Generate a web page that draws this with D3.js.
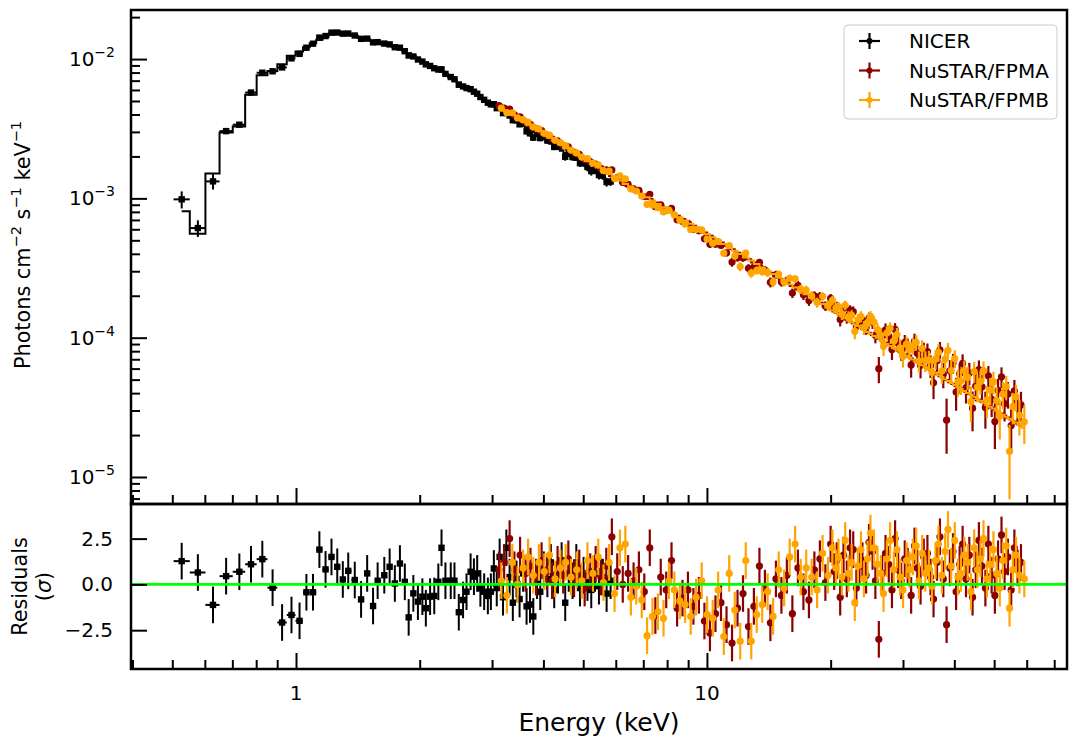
<!DOCTYPE html>
<html>
<head>
<meta charset="utf-8">
<script src="https://cdn.jsdelivr.net/npm/d3@7"></script>
<style>
  body { margin: 0; background: #fff; overflow: hidden; }
  svg { font-family: "DejaVu Sans", sans-serif; }
  text { white-space: pre; }
</style>
</head>
<body>
<div class="canvas"></div>
<script>
// Fluxes are given in units of 1e-4 photons cm^-2 s^-1 keV^-1,
// errors as percent of the model, residuals in sigma.
const FLUX_UNIT = 1e-4;

const nicerEnergy = [
  0.527, 0.577, 0.628, 0.676, 0.728, 0.777, 0.828, 0.877, 0.925, 0.975,
  1.02, 1.06, 1.10, 1.14, 1.18, 1.22, 1.26, 1.30, 1.34, 1.39,
  1.44, 1.49, 1.54, 1.58, 1.64, 1.69, 1.74, 1.79, 1.84, 1.88,
  1.93, 1.98, 2.03, 2.07, 2.12, 2.17, 2.22, 2.26, 2.31, 2.38,
  2.43, 2.49, 2.55, 2.60, 2.66, 2.71, 2.76, 2.81, 2.87, 2.93, 2.98,
  3.03, 3.08, 3.13, 3.19, 3.25, 3.31, 3.37, 3.44, 3.50,
  3.57, 3.64, 3.71, 3.78, 3.86, 3.93, 4.01, 4.09, 4.17, 4.25,
  4.34, 4.43, 4.52, 4.61, 4.71, 4.81, 4.91, 5.01,
  5.12, 5.23, 5.34, 5.46, 5.58, 5.70, 5.83
];
const nicerFlux = [
  9.84, 6.12, 13.24, 30.4, 33.8, 57.5, 79.8, 81.7, 87.1, 101.2,
  109.0, 120.6, 128.9, 142.6, 146.3, 154.8, 155.0, 152.2, 152.5, 147.6,
  139.7, 140.2, 131.8, 132.3, 129.2, 127.4, 121.6, 120.7, 113.8, 106.0,
  104.4, 99.3, 95.9, 91.6, 89.3, 85.9, 84.1, 84.4, 78.3, 74.3,
  71.6, 65.4, 63.6, 61.9, 60.8, 58.3, 56.4, 53.4, 51.0, 48.6, 47.3,
  47.4, 44.4, 45.2, 40.9, 42.7, 39.3, 36.4, 36.3, 34.0,
  34.5, 30.3, 29.3, 27.3, 29.0, 27.1, 27.7, 26.0, 26.2, 23.4,
  23.6, 23.7, 19.9, 21.1, 19.8, 20.2, 17.9, 17.9,
  16.8, 15.7, 16.0, 14.7, 14.6, 13.1, 13.2
];
const nicerErrPct = [
  17, 15, 11, 5, 4.5, 3.5, 3, 3, 2.5, 2.5,
  2, 2, 2, 2, 2, 2, 2, 2, 2, 2,
  2, 2, 2, 2, 2, 2, 2, 2, 2, 2,
  2, 2, 2, 2, 2, 2, 2, 2, 2, 2,
  2.5, 2.5, 2.5, 2.5, 2.5, 2.5, 2.5, 2.5, 2.5, 2.5, 2.5,
  3, 3, 3, 3, 3, 3, 3, 3, 3,
  5, 5, 5, 5, 5, 5, 5, 5, 5, 5,
  6, 6, 6, 6, 6, 6, 6, 6,
  7, 7, 7, 7, 7, 7, 7
];
const nicerResid = [
  1.27, 0.65, -1.12, 0.45, 0.69, 1.1, 1.38, -0.18, -2.08, -1.67,
  -1.99, -0.43, -0.43, 1.9, 0.82, 1.5, 0.96, 0.27, 0.74, 0.24,
  -0.82, 0.6, -1.18, 0.2, 0.5, 0.96, 0.05, 1.14, 0.14, -1.8,
  -0.49, -0.94, -0.67, -1.3, -0.67, -0.63, 0.14, 2.0, 0.2, 0.2,
  0.2, -1.52, -0.85, -0.4, 0.69, 0.42, 0.6, -0.22, -0.4, -0.63, -0.4,
  0.87, -0.2, 1.5, -0.7, 2.0, 0.4, -1.0, 0.3, -0.8,
  0.6, -1.2, -1.1, -1.75, 0.2, -0.4, 0.8, 0.3, 1.2, -0.3,
  0.5, 1.3, -1.0, 0.6, 0.2, 1.2, -0.2, 0.5,
  0.1, -0.3, 0.6, -0.1, 0.4, -0.5, 0.2
];

const fpmaEnergy = [
  3.12, 3.21, 3.31, 3.40, 3.51, 3.62, 3.72, 3.84, 3.96, 4.08,
  4.20, 4.33, 4.47, 4.60, 4.75, 4.89, 5.04, 5.20, 5.36, 5.52,
  5.69, 5.87, 6.05, 6.24, 6.43, 6.63, 6.83, 7.04, 7.26, 7.49,
  7.72, 7.96, 8.20, 8.46, 8.72, 8.99, 9.27, 9.56, 9.86,
  10.17, 10.49, 10.82, 11.16, 11.51, 11.87, 12.24, 12.62, 13.01, 13.42,
  13.84, 14.27, 14.72, 15.18, 15.65, 16.14, 16.65, 17.17, 17.71, 18.26,
  18.83, 19.42,
  20.0, 20.4, 20.7, 21.1, 21.5, 21.9, 22.3, 22.7, 23.1, 23.5,
  23.9, 24.4, 24.8, 25.3, 25.7, 26.2, 26.7, 27.2, 27.7, 28.2,
  28.7, 29.2, 29.7, 30.3, 30.8, 31.4, 32.0, 32.5, 33.1, 33.7,
  34.4, 35.0, 35.6, 36.3, 36.9, 37.6, 38.3, 39.0, 39.7, 40.4,
  41.2, 41.9, 42.7, 43.5, 44.3, 45.1, 45.9, 46.7, 47.6, 48.4,
  49.3, 50.2, 51.1, 52.1, 53.0, 54.0, 55.0, 56.0, 57.0, 58.1
];
const fpmaFlux = [
  46.3, 44.5, 43.7, 39.7, 38.4, 35.3, 34.0, 31.5, 30.6, 28.5,
  26.7, 25.9, 24.0, 23.4, 21.4, 20.7, 19.0, 18.4, 17.6, 16.4,
  16.0, 16.0, 14.1, 13.0, 12.6, 11.7, 11.4, 10.3, 10.7, 8.71,
  9.00, 8.25, 8.47, 7.02, 6.84, 6.63, 5.99, 5.85, 5.13,
  4.68, 4.69, 4.59, 4.06, 3.49, 3.76, 3.74, 3.15, 3.21, 3.47,
  3.06, 2.50, 2.83, 2.51, 2.57, 2.09, 2.38, 2.03, 1.85, 2.00,
  1.98, 1.69,
  1.913, 1.638, 1.677, 1.349, 1.626, 1.397, 1.576, 1.537, 1.205, 1.325,
  1.340, 1.183, 1.383, 1.291, 1.043, 0.599, 1.029, 1.137, 1.025, 0.821,
  1.147, 0.911, 0.809, 0.925, 0.859, 0.637, 0.944, 0.774, 0.633, 0.802,
  0.795, 0.630, 0.475, 0.684, 0.819, 0.546, 0.256, 0.579, 0.658, 0.407,
  0.550, 0.654, 0.439, 0.558, 0.312, 0.449, 0.590, 0.444, 0.316, 0.532,
  0.361, 0.250, 0.419, 0.524, 0.336, 0.395, 0.234, 0.415, 0.314, 0.329
];
const fpmaResid = [
  0.8, 1.2, 2.5, 0.8, 1.6, 0.6, 1.0, 0.4, 1.3, 0.7,
  0.2, 1.1, 0.5, 1.4, 0.3, 0.9, -0.2, 0.7, 1.1, 0.4,
  1.0, 2.6, 0.7, 0.0, 0.6, 0.2, 0.8, -0.4, 2.0, -1.7,
  0.4, -0.3, 1.3, -1.3, -0.75, -0.3, -1.2, -0.6, -2.0,
  -2.65, -1.6, -1.0, -2.2, -3.2, -1.3, -0.5, -2.3, -1.2, 1.0,
  -0.2, -2.1, 0.3, -0.6, 0.5, -1.6, 0.9, -0.4, -0.85, 0.8,
  1.4, 0.1,
  2.2, 0.7, 1.3, -0.7, 1.6, 0.3, 2.0, 1.9, -0.2, 1.0,
  1.3, 0.5, 2.3, 1.8, 0.2, -3.0, 0.6, 1.7, 1.1, -0.3,
  2.5, 0.8, 0.2, 1.4, 1.0, -0.6, 2.1, 0.9, -0.1, 1.5,
  1.7, 0.4, -0.8, 1.2, 2.6, 0.3, -2.2, 0.9, 1.8, -0.4,
  1.1, 2.2, 0.3, 1.6, -0.7, 0.8, 2.4, 1.0, -0.2, 2.2,
  0.5, -0.6, 1.4, 2.7, 0.7, 1.5, -0.3, 2.0, 0.9, 1.2
];

const fpmbEnergy = [
  3.16, 3.26, 3.36, 3.46, 3.57, 3.67, 3.78, 3.90, 4.02, 4.14,
  4.27, 4.40, 4.53, 4.67, 4.82, 4.96, 5.12, 5.28, 5.44, 5.60,
  5.78, 5.96, 6.14, 6.33, 6.53, 6.73, 6.94, 7.15, 7.37, 7.60,
  7.84, 8.08, 8.33, 8.59, 8.85, 9.13, 9.41, 9.71, 10.01,
  10.33, 10.65, 10.99, 11.33, 11.69, 12.05, 12.43, 12.82, 13.22, 13.63,
  14.05, 14.49, 14.95, 15.41, 15.90, 16.39, 16.91, 17.44, 17.98, 18.54,
  19.12, 19.71,
  20.2, 20.6, 20.9, 21.3, 21.7, 22.1, 22.5, 22.9, 23.3, 23.7,
  24.1, 24.6, 25.0, 25.5, 26.0, 26.5, 26.9, 27.4, 27.9, 28.5,
  29.0, 29.5, 30.0, 30.6, 31.1, 31.7, 32.3, 32.8, 33.4, 34.0,
  34.7, 35.3, 36.0, 36.6, 37.3, 38.0, 38.6, 39.3, 40.1, 40.8,
  41.5, 42.3, 43.1, 43.9, 44.7, 45.5, 46.3, 47.1, 48.0, 48.9,
  49.8, 50.7, 51.6, 52.5, 53.5, 54.5, 55.5, 56.5, 57.6, 59.2
];
const fpmbFlux = [
  44.4, 41.2, 41.1, 37.8, 36.7, 35.3, 32.6, 31.5, 29.3, 28.5,
  26.1, 25.1, 23.9, 22.2, 21.2, 19.8, 19.3, 17.9, 17.4, 15.8,
  15.7, 13.9, 14.5, 13.8, 11.7, 11.3, 10.4, 9.06, 8.97, 8.57,
  8.00, 8.25, 7.63, 6.99, 6.55, 5.99, 5.99, 5.94, 5.10,
  4.77, 4.90, 4.04, 4.58, 3.86, 3.24, 4.05, 2.91, 3.04, 2.98,
  2.94, 2.51, 2.85, 2.51, 2.67, 2.64, 2.23, 2.20, 2.00, 1.79,
  1.98, 1.71,
  1.853, 1.638, 1.674, 1.482, 1.709, 1.413, 1.446, 1.112, 1.344, 1.419,
  1.180, 1.281, 1.424, 1.295, 1.143, 1.040, 0.868, 1.079, 1.166, 0.946,
  1.054, 0.845, 0.734, 0.898, 0.820, 0.875, 0.927, 0.679, 0.839, 0.683,
  0.692, 0.562, 0.701, 0.785, 0.576, 0.702, 0.810, 0.581, 0.709, 0.484,
  0.490, 0.581, 0.521, 0.347, 0.572, 0.441, 0.485, 0.580, 0.357, 0.421,
  0.481, 0.354, 0.273, 0.393, 0.447, 0.153, 0.320, 0.376, 0.277, 0.249
];
const fpmbResid = [
  0.2, -0.6, 1.2, 0.0, 0.9, 1.5, 0.5, 1.2, 0.7, 1.6,
  0.3, 0.9, 1.2, 0.4, 0.8, 0.2, 1.3, 0.6, 1.5, 0.1,
  1.2, -0.5, 2.0, 2.2, -0.7, -0.1, -0.85, -2.8, -1.75, -1.5,
  -1.85, 0.2, -0.3, -0.9, -1.1, -1.75, -0.7, 0.2, -1.65,
  -1.85, -0.3, -2.85, 0.6, -1.4, -3.1, 1.3, -3.1, -1.65, -1.1,
  -0.4, -1.75, 0.8, -0.2, 1.5, 2.2, 0.4, 0.9, 0.4, -0.3,
  1.7, 0.5,
  2.0, 0.9, 1.5, 0.4, 2.4, 0.6, 1.2, -1.0, 1.0, 1.9,
  0.3, 1.4, 2.8, 2.0, 1.1, 0.6, -0.5, 1.4, 2.4, 0.8,
  1.9, 0.4, -0.3, 1.3, 0.8, 1.5, 2.1, 0.2, 1.7, 0.6,
  0.9, -0.1, 1.3, 2.2, 0.5, 1.8, 3.0, 1.0, 2.4, 0.4,
  0.6, 1.6, 1.2, -0.4, 2.0, 0.8, 1.4, 2.5, 0.3, 1.1,
  1.9, 0.6, -0.2, 1.3, 2.1, -1.3, 0.8, 1.6, 0.5, 0.3
];

// both FPMs share the same error level bin by bin
const nustarErrPct = [
  3, 3, 3, 3, 3, 3, 3, 3, 3, 3,
  3, 3, 3, 3, 3, 3, 3, 3, 3, 3,
  4, 4, 4, 4, 4, 4, 4, 4, 4, 4,
  4, 5, 5, 5, 5, 5, 5, 5, 5,
  5, 5, 5, 5, 6, 6, 6, 6, 6, 6,
  7, 7, 7, 7, 7, 7, 8, 8, 8, 8,
  8, 8,
  9, 9, 9, 10, 10, 10, 10, 11, 11, 11,
  12, 12, 12, 13, 13, 13, 14, 14, 14, 15,
  15, 16, 16, 16, 17, 17, 18, 18, 19, 19,
  19, 20, 20, 21, 21, 22, 22, 23, 23, 24,
  24, 25, 25, 26, 26, 27, 27, 28, 28, 29,
  29, 30, 30, 31, 31, 32, 32, 33, 33, 34
];

const xMajorTicks = [1, 10];
const xMinorTicks = [0.4, 0.5, 0.6, 0.7, 0.8, 0.9, 2, 3, 4, 5, 6, 7, 8, 9, 20, 30, 40, 50, 60, 70];
const fluxMajorTicks = [1e-5, 1e-4, 1e-3, 1e-2];
const resTicks = [-2.5, 0, 2.5];

const WIDTH = 1079;
const HEIGHT = 747;
const plot = { left: 131, right: 1067, top: 10, split: 504, bottom: 669 };

const x = d3.scaleLog().domain([0.3967, 75.2]).range([plot.left, plot.right]);
const yFlux = d3.scaleLog().domain([6.4e-6, 0.0225]).range([plot.split, plot.top]);
const yRes = d3.scaleLinear().domain([-4.62, 4.39]).range([plot.bottom, plot.split]);

// turns the arrays into points: model from flux, residual and error,
// bin edges halfway (in log) to the neighbouring channels
const buildSeries = (energy, flux, errPct, resid) => {
    const pts = energy.map((e, i) => {
        const f = flux[i] * FLUX_UNIT;
        const rel = errPct[i] / 100;
        const model = f / (1 + resid[i] * rel);
        return { e, f, model, err: rel * model, res: resid[i] };
    });
    pts.forEach((p, i) => {
        const prev = i > 0 ? pts[i - 1].e : p.e * p.e / pts[i + 1].e;
        const next = i < pts.length - 1 ? pts[i + 1].e : p.e * p.e / pts[i - 1].e;
        p.lo = Math.sqrt(prev * p.e);
        p.hi = Math.sqrt(next * p.e);
    });
    return pts;
};

const series = [
    { name: 'NICER', color: '#000000', shape: 'square',
      pts: buildSeries(nicerEnergy, nicerFlux, nicerErrPct, nicerResid) },
    { name: 'NuSTAR/FPMA', color: '#8b0000', shape: 'circle',
      pts: buildSeries(fpmaEnergy, fpmaFlux, nustarErrPct, fpmaResid) },
    { name: 'NuSTAR/FPMB', color: '#ffa500', shape: 'circle',
      pts: buildSeries(fpmbEnergy, fpmbFlux, nustarErrPct, fpmbResid) }
];

const svg = d3.select('.canvas')
    .append('svg')
    .attr('width', WIDTH)
    .attr('height', HEIGHT);

const defs = svg.append('defs');
defs.append('clipPath').attr('id', 'clip-top').append('rect')
    .attr('x', plot.left).attr('y', plot.top)
    .attr('width', plot.right - plot.left).attr('height', plot.split - plot.top);
defs.append('clipPath').attr('id', 'clip-res').append('rect')
    .attr('x', plot.left).attr('y', plot.split)
    .attr('width', plot.right - plot.left).attr('height', plot.bottom - plot.split);

const topLayer = svg.append('g').attr('clip-path', 'url(#clip-top)');
const resLayer = svg.append('g').attr('clip-path', 'url(#clip-res)');

const drawPoints = (layer, s, yVal, yLo, yHi) => {
    const lw = s.shape === 'square' ? 2 : 2.2;
    const bars = layer.append('g').attr('stroke', s.color).attr('stroke-width', lw);
    bars.selectAll('.ev').data(s.pts).join('line').attr('class', 'ev')
        .attr('x1', d => x(d.e)).attr('x2', d => x(d.e))
        .attr('y1', yLo).attr('y2', yHi);
    bars.selectAll('.eh').data(s.pts).join('line').attr('class', 'eh')
        .attr('x1', d => x(d.lo)).attr('x2', d => x(d.hi))
        .attr('y1', yVal).attr('y2', yVal);

    const marks = layer.append('g').attr('fill', s.color);
    if (s.shape === 'square') {
        marks.selectAll('rect').data(s.pts).join('rect')
            .attr('x', d => x(d.e) - 3.2).attr('y', d => yVal(d) - 3.2)
            .attr('width', 6.4).attr('height', 6.4);
    } else {
        marks.selectAll('circle').data(s.pts).join('circle')
            .attr('cx', d => x(d.e)).attr('cy', yVal).attr('r', 3.6);
    }
};

const modelLine = d3.line()
    .x(d => x(d.e))
    .y(d => yFlux(d.model))
    .curve(d3.curveStep);

series.forEach(s => {
    drawPoints(topLayer, s, d => yFlux(d.f), d => yFlux(d.f - d.err), d => yFlux(d.f + d.err));
    topLayer.append('path')
        .datum(s.pts)
        .attr('d', modelLine)
        .attr('fill', 'none')
        .attr('stroke', s.color)
        .attr('stroke-width', 2);
});

series.forEach(s => {
    drawPoints(resLayer, s, d => yRes(d.res), d => yRes(d.res - 1), d => yRes(d.res + 1));
});

resLayer.append('line')
    .attr('x1', plot.left).attr('x2', plot.right)
    .attr('y1', yRes(0)).attr('y2', yRes(0))
    .attr('stroke', '#00ff00')
    .attr('stroke-width', 2.8);

// ticks, all pointing inwards
const styleTicks = g => {
    g.select('.domain').remove();
    g.selectAll('text').remove();
    g.selectAll('line').attr('stroke', '#000').attr('stroke-width', 2);
};

[plot.split, plot.bottom].forEach(yPos => {
    svg.append('g').attr('transform', `translate(0,${yPos})`)
        .call(d3.axisBottom(x).tickValues(xMajorTicks).tickSize(-16))
        .call(styleTicks);
    svg.append('g').attr('transform', `translate(0,${yPos})`)
        .call(d3.axisBottom(x).tickValues(xMinorTicks).tickSize(-9))
        .call(styleTicks);
});

const fluxMinorTicks = [];
for (let d = -6; d <= -2; d++) {
    for (let k = 2; k <= 9; k++) {
        const v = k * Math.pow(10, d);
        if (v > yFlux.domain()[0] && v < yFlux.domain()[1]) fluxMinorTicks.push(v);
    }
}

svg.append('g').attr('transform', `translate(${plot.left},0)`)
    .call(d3.axisLeft(yFlux).tickValues(fluxMajorTicks).tickSize(-16))
    .call(styleTicks);
svg.append('g').attr('transform', `translate(${plot.left},0)`)
    .call(d3.axisLeft(yFlux).tickValues(fluxMinorTicks).tickSize(-9))
    .call(styleTicks);
svg.append('g').attr('transform', `translate(${plot.left},0)`)
    .call(d3.axisLeft(yRes).tickValues(resTicks).tickSize(-16))
    .call(styleTicks);

// spines
[[plot.top, plot.split], [plot.split, plot.bottom]].forEach(([y0, y1]) => {
    svg.append('rect')
        .attr('x', plot.left).attr('y', y0)
        .attr('width', plot.right - plot.left).attr('height', y1 - y0)
        .attr('fill', 'none')
        .attr('stroke', '#000')
        .attr('stroke-width', 2.5);
});

// text with superscript parts
const appendRich = (textSel, parts, supSize, rise) => {
    let shifted = false;
    parts.forEach(p => {
        const ts = textSel.append('tspan').text(p.t);
        if (p.sup) {
            ts.attr('font-size', supSize);
            if (!shifted) { ts.attr('dy', -rise); shifted = true; }
        } else if (shifted) {
            ts.attr('dy', rise);
            shifted = false;
        }
    });
    return textSel;
};

const labels = svg.append('g').attr('fill', '#000');

fluxMajorTicks.forEach(v => {
    const exp = Math.round(Math.log10(v));
    const t = labels.append('text')
        .attr('x', plot.left - 16)
        .attr('y', yFlux(v) + 7)
        .attr('text-anchor', 'end')
        .attr('font-size', 20);
    appendRich(t, [{ t: '10' }, { t: '\u2212' + Math.abs(exp), sup: true }], 14, 9);
});

resTicks.forEach(v => {
    labels.append('text')
        .attr('x', plot.left - 18)
        .attr('y', yRes(v) + 7)
        .attr('text-anchor', 'end')
        .attr('font-size', 20)
        .text(d3.format('.1f')(v).replace('-', '\u2212'));
});

xMajorTicks.forEach(v => {
    labels.append('text')
        .attr('x', x(v))
        .attr('y', 700)
        .attr('text-anchor', 'middle')
        .attr('font-size', 20)
        .text(v);
});

labels.append('text')
    .attr('x', (plot.left + plot.right) / 2)
    .attr('y', 731)
    .attr('text-anchor', 'middle')
    .attr('font-size', 25)
    .text('Energy (keV)');

const yLab = labels.append('text')
    .attr('transform', `translate(30,${(plot.top + plot.split) / 2 - 12}) rotate(-90)`)
    .attr('text-anchor', 'middle')
    .attr('font-size', 20.8);
appendRich(yLab, [
    { t: 'Photons cm' }, { t: '\u22122', sup: true },
    { t: ' s' }, { t: '\u22121', sup: true },
    { t: ' keV' }, { t: '\u22121', sup: true }
], 14.5, 9);

const resMid = (plot.split + plot.bottom) / 2;
labels.append('text')
    .attr('transform', `translate(27,${resMid}) rotate(-90)`)
    .attr('text-anchor', 'middle')
    .attr('font-size', 20.8)
    .text('Residuals');
const sigmaLab = labels.append('text')
    .attr('transform', `translate(51,${resMid}) rotate(-90)`)
    .attr('text-anchor', 'middle')
    .attr('font-size', 20.8);
sigmaLab.append('tspan').text('(');
sigmaLab.append('tspan').attr('font-style', 'italic').text('\u03c3');
sigmaLab.append('tspan').text(')');

// legend
const legend = svg.append('g');
legend.append('rect')
    .attr('x', 844).attr('y', 25)
    .attr('width', 213).attr('height', 94)
    .attr('rx', 4)
    .attr('fill', '#fff').attr('fill-opacity', 0.8)
    .attr('stroke', '#cccccc').attr('stroke-width', 1);

series.forEach((s, i) => {
    const cy = 41 + i * 29.5;
    const g = legend.append('g').attr('stroke', s.color).attr('stroke-width', 2.2);
    g.append('line').attr('x1', 859).attr('x2', 880).attr('y1', cy).attr('y2', cy);
    g.append('line').attr('x1', 869.5).attr('x2', 869.5).attr('y1', cy - 8).attr('y2', cy + 8);
    legend.append('circle').attr('cx', 869.5).attr('cy', cy).attr('r', 3).attr('fill', s.color);
    legend.append('text')
        .attr('x', 909).attr('y', cy + 7)
        .attr('font-size', 20)
        .text(s.name);
});
</script>
</body>
</html>
